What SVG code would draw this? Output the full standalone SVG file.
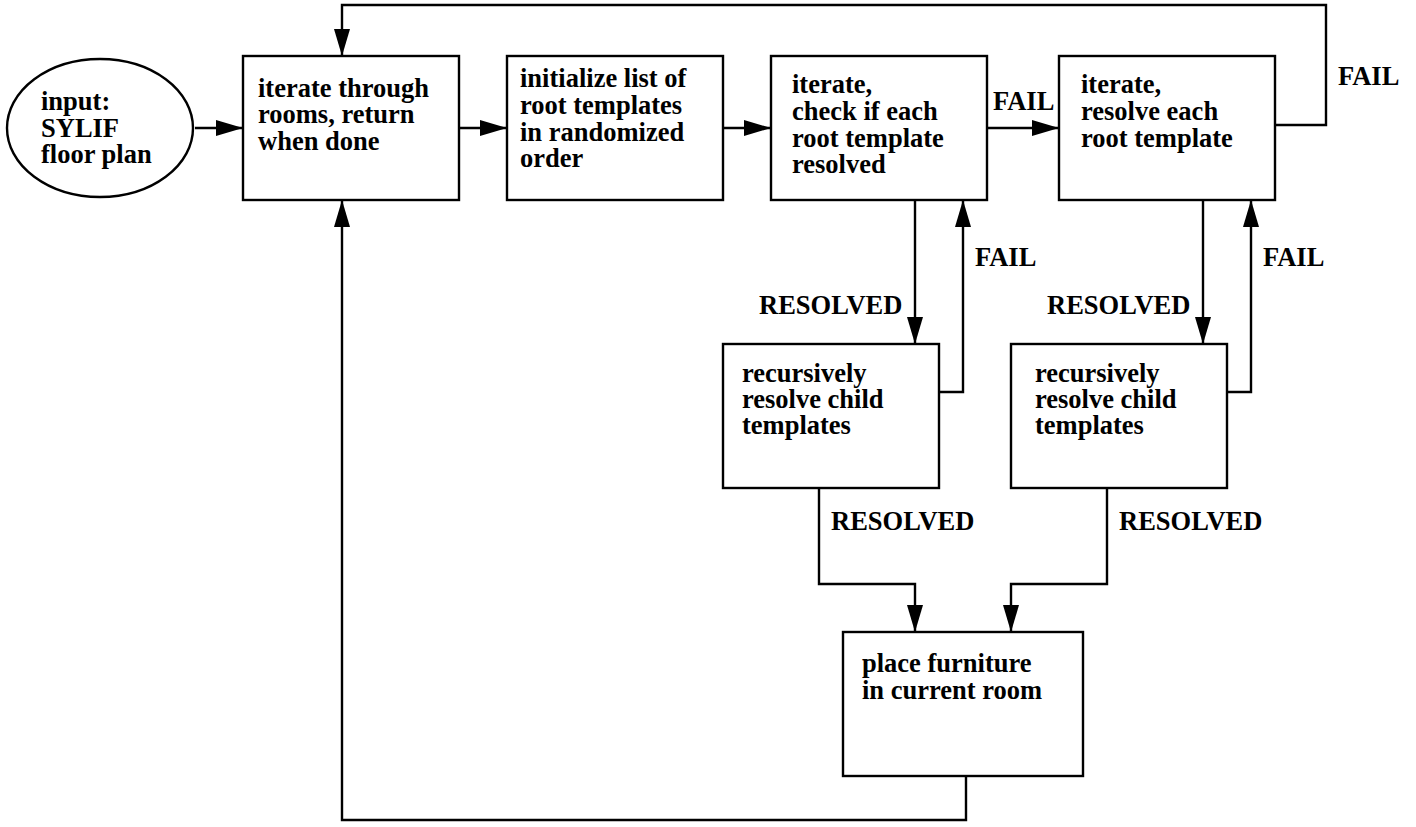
<svg xmlns="http://www.w3.org/2000/svg" width="1416" height="827" viewBox="0 0 1416 827">
<style>
.box{fill:#fff;stroke:#000;stroke-width:2.4}
.ln{fill:none;stroke:#000;stroke-width:2.4}
text{font-family:"Liberation Serif","Times New Roman",serif;font-weight:bold;font-size:26.5px;fill:#000}
</style>
<defs>
<marker id="ah" markerUnits="userSpaceOnUse" markerWidth="28" markerHeight="17" refX="27" refY="8" orient="auto">
<path d="M0,0 L27,8 L0,16 z" fill="#000"/>
</marker>
</defs>
<rect width="1416" height="827" fill="#fff"/>
<g id="connectors">
<path class="ln" d="M195,128 H243" marker-end="url(#ah)"/>
<path class="ln" d="M459,128 H507" marker-end="url(#ah)"/>
<path class="ln" d="M723,128 H771" marker-end="url(#ah)"/>
<path class="ln" d="M987,128 H1059" marker-end="url(#ah)"/>
<path class="ln" d="M1275,125 H1326 V5 H342 V56" marker-end="url(#ah)"/>
<path class="ln" d="M915,200 V344" marker-end="url(#ah)"/>
<path class="ln" d="M939,392 H963 V200" marker-end="url(#ah)"/>
<path class="ln" d="M1203,200 V344" marker-end="url(#ah)"/>
<path class="ln" d="M1227,392 H1251 V200" marker-end="url(#ah)"/>
<path class="ln" d="M819,488 V584 H915 V632" marker-end="url(#ah)"/>
<path class="ln" d="M1107,488 V584 H1011 V632" marker-end="url(#ah)"/>
<path class="ln" d="M966,773 V820 H342 V200" marker-end="url(#ah)"/>
<text x="993" y="110">FAIL</text>
<text x="1338" y="85">FAIL</text>
<text x="975" y="266">FAIL</text>
<text x="1263" y="266">FAIL</text>
<text x="759" y="314">RESOLVED</text>
<text x="1047" y="314">RESOLVED</text>
<text x="831" y="530">RESOLVED</text>
<text x="1119" y="530">RESOLVED</text>
</g>
<g id="input">
<ellipse class="box" cx="100" cy="128" rx="93" ry="69"/>
<text x="41" y="110">input:</text>
<text x="41" y="137">SYLIF</text>
<text x="41" y="163">floor plan</text>
</g>
<g id="iterate-rooms">
<rect class="box" x="243" y="56" width="216" height="144"/>
<text x="258" y="97">iterate through</text>
<text x="258" y="123">rooms, return</text>
<text x="258" y="150">when done</text>
</g>
<g id="init-list">
<rect class="box" x="507" y="56" width="216" height="144"/>
<text x="520" y="87">initialize list of</text>
<text x="520" y="114">root templates</text>
<text x="520" y="141">in randomized</text>
<text x="520" y="167">order</text>
</g>
<g id="check-resolved">
<rect class="box" x="771" y="56" width="216" height="144"/>
<text x="792" y="93">iterate,</text>
<text x="792" y="120">check if each</text>
<text x="792" y="147">root template</text>
<text x="792" y="173">resolved</text>
</g>
<g id="resolve-each">
<rect class="box" x="1059" y="56" width="216" height="144"/>
<text x="1081" y="93">iterate,</text>
<text x="1081" y="120">resolve each</text>
<text x="1081" y="147">root template</text>
</g>
<g id="recursive-1">
<rect class="box" x="723" y="344" width="216" height="144"/>
<text x="742" y="382">recursively</text>
<text x="742" y="408">resolve child</text>
<text x="742" y="434">templates</text>
</g>
<g id="recursive-2">
<rect class="box" x="1011" y="344" width="216" height="144"/>
<text x="1035" y="382">recursively</text>
<text x="1035" y="408">resolve child</text>
<text x="1035" y="434">templates</text>
</g>
<g id="place-furniture">
<rect class="box" x="843" y="632" width="240" height="144"/>
<text x="862" y="672">place furniture</text>
<text x="862" y="699">in current room</text>
</g>
</svg>
